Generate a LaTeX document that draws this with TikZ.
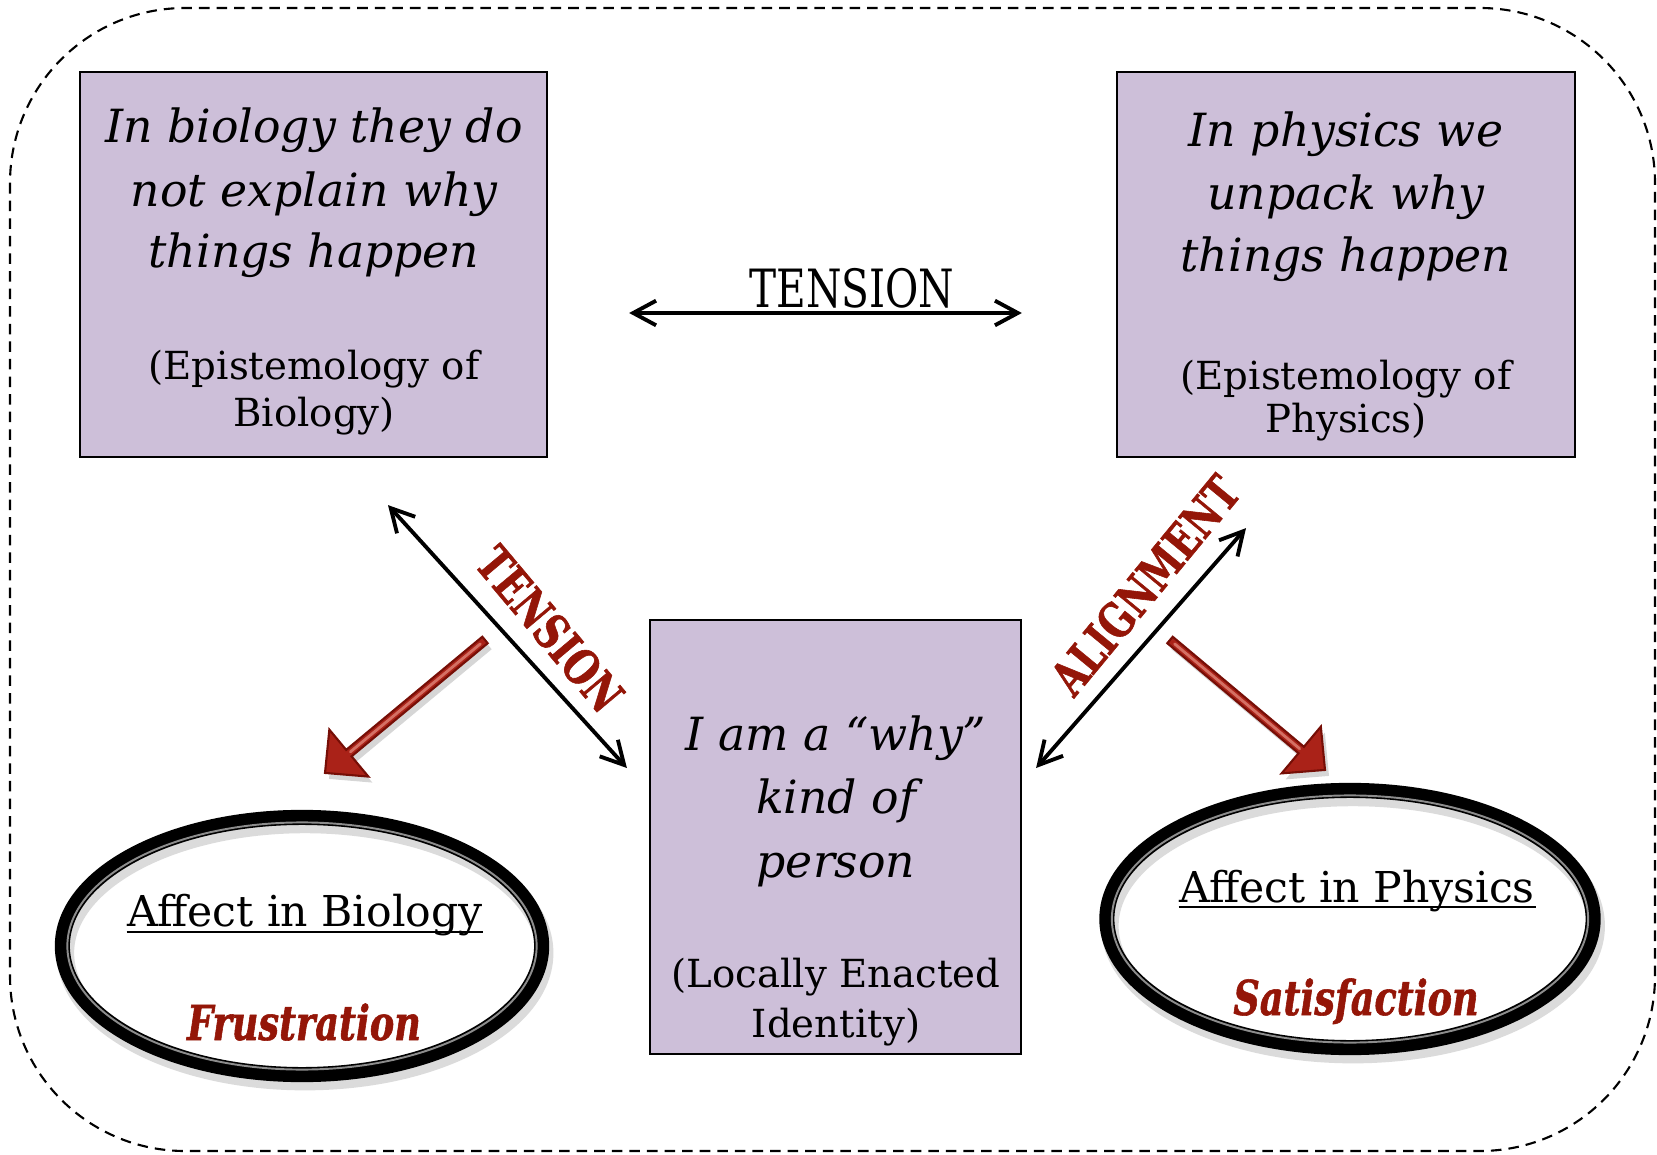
\documentclass[tikz,border=0pt]{standalone}
\usepackage{fontspec}
\setmainfont{DejaVu Serif}
\newfontfamily\slabc[FakeStretch=0.77]{DejaVu Serif}
\newfontfamily\slabx[FakeStretch=0.76,FakeBold=1.2]{DejaVu Serif}
\usetikzlibrary{arrows.meta,shapes.geometric,calc}
\definecolor{lilac}{RGB}{205,191,217}
\definecolor{redtxt}{RGB}{148,22,8}
\definecolor{rdark}{RGB}{118,14,6}
\definecolor{rmid}{RGB}{170,34,24}
\definecolor{rlight}{RGB}{212,112,100}

\newcommand\fatarrow[2]{%
  \coordinate (#1h) at ($(#2)!0.31cm!(#1)$);
  \fill[black, opacity=0.16, transform canvas={shift={(0.04cm,-0.06cm)}}]
    ($(#1)!0.042cm!90:(#2)$) -- ($(#1h)!0.042cm!90:(#2)$) -- ($(#1h)!0.305cm!90:(#2)$) -- (#2)
    -- ($(#1h)!0.305cm!-90:(#2)$) -- ($(#1h)!0.042cm!-90:(#2)$) -- ($(#1)!0.042cm!-90:(#2)$) -- cycle;
  \draw[fatarr]
    ($(#1)!0.042cm!90:(#2)$) -- ($(#1h)!0.042cm!90:(#2)$) -- ($(#1h)!0.305cm!90:(#2)$) -- (#2)
    -- ($(#1h)!0.305cm!-90:(#2)$) -- ($(#1h)!0.042cm!-90:(#2)$) -- ($(#1)!0.042cm!-90:(#2)$) -- cycle;
  \draw[rlight, line width=0.8pt, line cap=round] ($(#1)!0.06cm!(#2)$) -- ($(#1h)!0.02cm!(#1)$);
}

\tikzset{
  border/.style={dashed, dash pattern=on 3pt off 2pt, line width=0.6pt, rounded corners=1.75cm},
  box/.style={draw=black, line width=0.7pt, fill=lilac, inner sep=0pt, outer sep=0pt},
  itxt/.style={font=\fontsize{13}{15}\selectfont\itshape, anchor=base, inner sep=0pt},
  rtxt/.style={font=\fontsize{11}{13}\selectfont, anchor=base, inner sep=0pt},
  conn/.style={line width=1.1pt, {Straight Barb[length=6.5pt,width=7pt]}-{Straight Barb[length=6.5pt,width=7pt]}},
  toplab/.style={font=\slabc\fontsize{15}{18}\selectfont, anchor=base, inner sep=0pt},
  redlab/.style={font=\slabx\bfseries\fontsize{13.7}{16}\selectfont, text=redtxt, inner sep=0pt},
  ring/.style={ellipse, draw=black, line width=4.3pt, inner sep=0pt, outer sep=0pt},
  ringhi/.style={black!45, line width=0.55pt},
  ringsh/.style={black!14, line width=5pt},
  affect/.style={font=\fontsize{12.1}{14}\selectfont, anchor=base, inner sep=0pt},
  feel/.style={font=\slabx\bfseries\itshape\fontsize{13.7}{16}\selectfont, text=redtxt, anchor=base, inner sep=0pt},
  uline/.style={line width=0.7pt},
  fatarr/.style={fill=rmid, draw=rdark, line width=0.6pt, line join=miter}
}

\begin{document}
\begin{tikzpicture}[x=0.01cm,y=-0.01cm]
\useasboundingbox (0,0) rectangle (1657,1155);

% outer dashed frame
\draw[border] (10,8) rectangle (1655,1151);

% boxes
\node[box, minimum width=4.67cm, minimum height=3.85cm] (bio) at (313.5,264.5) {};
\node[box, minimum width=4.58cm, minimum height=3.85cm] (phys) at (1346,264.5) {};
\node[box, minimum width=3.71cm, minimum height=4.34cm] (ident) at (835.5,837) {};

% box texts
\node[itxt] (b1) at (314,143) {In biology they do};
\node[itxt] (b2) at (314,207) {not explain why};
\node[itxt] (b3) at (314,268) {things happen};
\node[rtxt] (b4) at (314,380) {(Epistemology of};
\node[rtxt] (b5) at (314,427) {Biology)};

\node[itxt] (p1) at (1346,147) {In physics we};
\node[itxt] (p2) at (1346,210) {unpack why};
\node[itxt] (p3) at (1346,272) {things happen};
\node[rtxt] (p4) at (1346,390) {(Epistemology of};
\node[rtxt] (p5) at (1346,433) {Physics)};

\node[itxt] (i1) at (836,750) {I am a “why”};
\node[itxt] (i2) at (836,813) {kind of};
\node[itxt] (i3) at (836,877) {person};
\node[rtxt] (i4) at (836,987) {(Locally Enacted};
\node[rtxt] (i5) at (836,1037) {Identity)};

% black connectors
\draw[conn] ($(bio.east)+(82,48.5)$) -- ($(phys.west)+(-95,48.5)$);
\node[toplab] (tensT) at (852,308) {TENSION};
\draw[conn] ($(bio.south)+(74.5,48)$) -- ($(ident.west)+(-23,-69)$);
\draw[conn] ($(ident.east)+(15,-69)$) -- ($(phys.south)+(-100,71)$);
\node[redlab, rotate=-50] (tensL) at (550,629) {TENSION};
\node[redlab, rotate=50.5] (align) at (1145,585) {ALIGNMENT};

% ellipse shadows
\draw[ringsh] (305,953) ellipse [x radius=2.395cm, y radius=1.285cm];
\draw[ringsh] (1353,926) ellipse [x radius=2.43cm, y radius=1.285cm];

% ellipses
\node[ring, minimum width=4.79cm, minimum height=2.57cm] (ellL) at (302,946) {};
\node[ring, minimum width=4.86cm, minimum height=2.57cm] (ellR) at (1350,919) {};
\draw[ringhi] (ellL.center) ellipse [x radius=2.345cm, y radius=1.235cm];
\draw[ringhi] (ellR.center) ellipse [x radius=2.38cm, y radius=1.235cm];

\node[affect] (affB) at (305,926) {Affect in Biology};
\draw[uline] ($(affB.base west)+(0,6)$) -- ($(affB.base east)+(0,6)$);
\node[feel] (frus) at (304,1040) {Frustration};

\node[affect] (affP) at (1357,902) {Affect in Physics};
\draw[uline] ($(affP.base west)+(0,5)$) -- ($(affP.base east)+(0,5)$);
\node[feel] (sat) at (1356,1015) {Satisfaction};

% red fat arrows
\coordinate (tailL) at (485,640);
\coordinate (tipL) at ($(ellL.north)+(23,-44.5)$);
\fatarrow{tailL}{tipL}
\coordinate (tailR) at (1170,640);
\coordinate (tipR) at ($(ellR.north)+(-25,-20.5)$);
\fatarrow{tailR}{tipR}
\end{tikzpicture}
\end{document}
